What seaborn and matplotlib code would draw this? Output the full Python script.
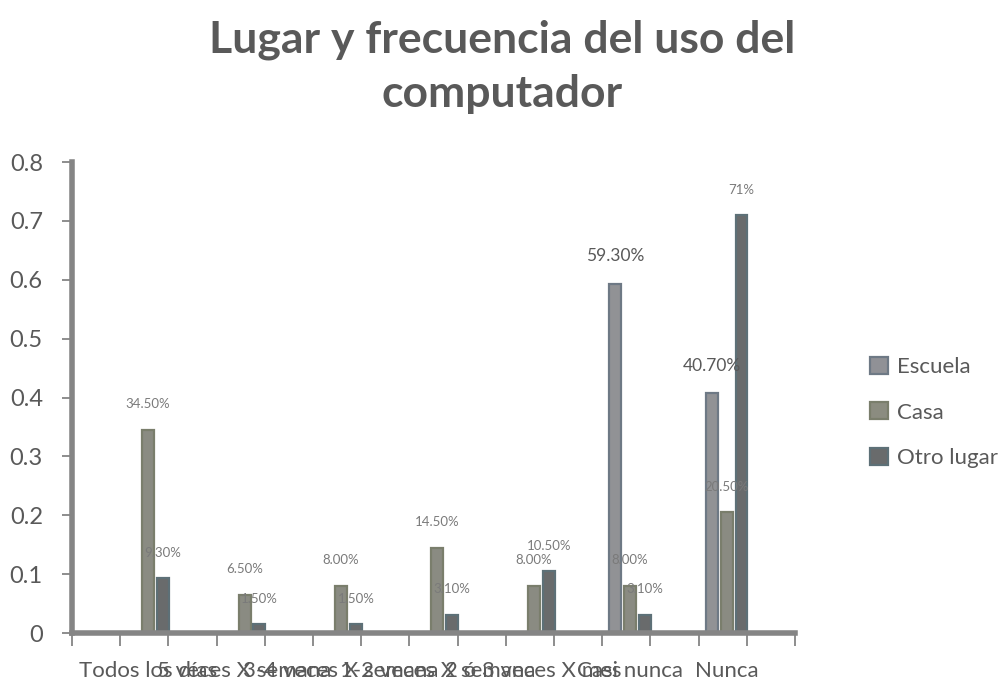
"""Lugar y frecuencia del uso del computador: barras agrupadas por frecuencia."""

import matplotlib

matplotlib.use("Agg")

import matplotlib.pyplot as plt
import matplotlib.patches as mpatches
import numpy as np
import pandas as pd
import seaborn as sns

# ---------------------------------------------------------------------------
# Datos
# ---------------------------------------------------------------------------
frecuencias = ["Todos los días", "5 veces X semana", "3-4 veces X semana",
               "1-2 veces X semana", "2 ó 3 veces X mes", "Casi nunca", "Nunca"]
lugares = ["Escuela", "Casa", "Otro lugar"]

escuela = [0, 0, 0, 0, 0, 0.593, 0.407]
casa = [0.345, 0.065, 0.080, 0.145, 0.080, 0.080, 0.205]
otro_lugar = [0.093, 0.015, 0.015, 0.031, 0.105, 0.031, 0.71]

etiquetas_escuela = ["", "", "", "", "", "59.30%", "40.70%"]
etiquetas_casa = ["34.50%", "6.50%", "8.00%", "14.50%", "8.00%", "8.00%", "20.50%"]
etiquetas_otro = ["9.30%", "1.50%", "1.50%", "3.10%", "10.50%", "3.10%", "71%"]

y_ticks = [0, 0.1, 0.2, 0.3, 0.4, 0.5, 0.6, 0.7, 0.8]
y_tick_labels = ["0", "0.1", "0.2", "0.3", "0.4", "0.5", "0.6", "0.7", "0.8"]

df = pd.DataFrame({
    "frecuencia": frecuencias * 3,
    "lugar": np.repeat(lugares, len(frecuencias)),
    "valor": escuela + casa + otro_lugar,
})

# ---------------------------------------------------------------------------
# Estilo
# ---------------------------------------------------------------------------
sns.set_theme(style="white")
plt.rcParams["font.family"] = ["Lato", "DejaVu Sans"]

GRIS_TEXTO = "#595959"
GRIS_EJE = "#858585"
rellenos = {"Escuela": "#909196", "Casa": "#8b8c80", "Otro lugar": "#696b6c"}
bordes = {"Escuela": "#6e7985", "Casa": "#7a7e6c", "Otro lugar": "#5d7077"}

fig = plt.figure(figsize=(9.98, 6.83), dpi=100)
ax = fig.add_axes([0.0721, 0.0732, 0.7245, 0.6896])

sns.barplot(data=df, x="frecuencia", y="valor", hue="lugar", order=frecuencias,
            hue_order=lugares, palette=rellenos, width=0.465, gap=0.2,
            legend=False, ax=ax)

for cont, lugar, etiquetas, tam in zip(ax.containers, lugares,
                                        [etiquetas_escuela, etiquetas_casa, etiquetas_otro],
                                        [12.5, 9.5, 9.5]):
    for barra in cont:
        barra.set_edgecolor(bordes[lugar])
        barra.set_linewidth(1.6)
    ax.bar_label(cont, labels=etiquetas, padding=14, fontsize=tam,
                 color=GRIS_TEXTO if tam > 10 else "#7a7a7a")

ax.set_xlim(-0.79, 6.71)
ax.set_ylim(0, 0.8)
ax.set_yticks(y_ticks, y_tick_labels)
ax.set_xticks(range(len(frecuencias)), frecuencias)
ax.set_xticks(np.arange(-0.79, 6.8, 0.5), minor=True)
ax.set_xlabel("")
ax.set_ylabel("")

ax.tick_params(axis="x", which="major", length=0, pad=20, labelsize=16,
               labelcolor=GRIS_TEXTO)
ax.tick_params(axis="x", which="minor", length=9, width=1.3, color=GRIS_EJE,
               direction="out", bottom=True)
ax.tick_params(axis="y", length=7, width=1.3, color=GRIS_EJE, direction="out",
               left=True, pad=14, labelsize=17, labelcolor=GRIS_TEXTO)

for lado in ["top", "right"]:
    ax.spines[lado].set_visible(False)
for lado in ["left", "bottom"]:
    ax.spines[lado].set_color(GRIS_EJE)
    ax.spines[lado].set_linewidth(4)

fig.text(0.503, 0.972, "Lugar y frecuencia del uso del\ncomputador", ha="center",
         va="top", fontsize=32, fontweight="bold", color=GRIS_TEXTO, linespacing=1.45)

manejadores = [mpatches.Patch(facecolor=rellenos[l], edgecolor=bordes[l], linewidth=1.6,
                              label=l) for l in lugares]
fig.legend(handles=manejadores, loc="center left", bbox_to_anchor=(0.852, 0.396),
           frameon=False, fontsize=16, labelcolor=GRIS_TEXTO, handlelength=0.8,
           handleheight=0.8, handletextpad=0.4, labelspacing=1.15)

fig.savefig("out.png", dpi=100)
